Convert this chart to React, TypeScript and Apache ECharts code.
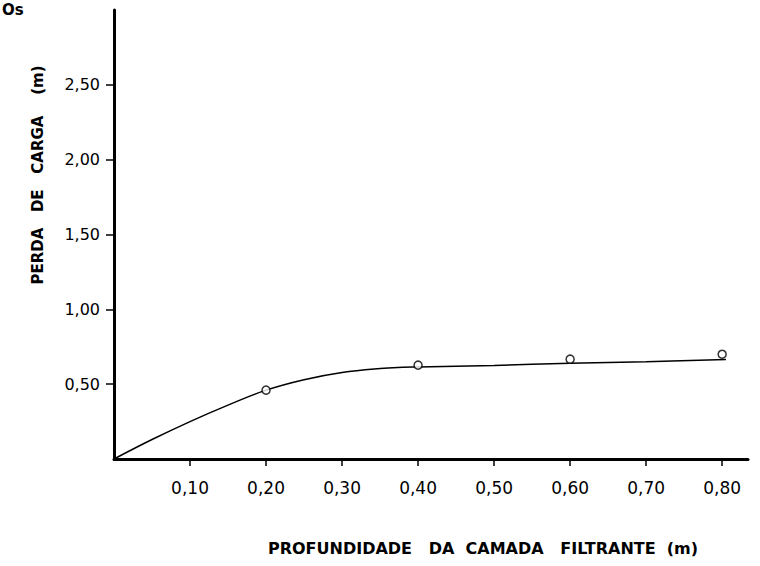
import React, { useEffect, useRef } from "react";
import * as echarts from "echarts";

// Measured points (profundidade m, perda de carga m)
const pointX = [0.2, 0.4, 0.6, 0.8];
const pointY = [0.46, 0.627, 0.667, 0.7];

// Fitted curve drawn by hand in the reference
const curveX = [0, 0.05, 0.1, 0.15, 0.2, 0.25, 0.3, 0.35, 0.38, 0.4, 0.5, 0.6, 0.7, 0.805];
const curveY = [0, 0.13, 0.25, 0.36, 0.46, 0.53, 0.578, 0.605, 0.613, 0.615, 0.625, 0.64, 0.65, 0.665];

const xTicks = [0.1, 0.2, 0.3, 0.4, 0.5, 0.6, 0.7, 0.8];
const yTicks = [0.5, 1.0, 1.5, 2.0, 2.5];

const xTitle = "PROFUNDIDADE   DA  CAMADA   FILTRANTE  (m)";
const yTitle = "PERDA   DE   CARGA    (m)";
const cornerText = "Os";

const fmt = (v: number) => v.toFixed(2).replace(".", ",");

export default function App() {
  const ref = useRef<HTMLDivElement>(null);
  useEffect(() => {
    if (!ref.current) return;
    const chart = echarts.init(ref.current, null, { renderer: "svg" });
    const font = "DejaVu Sans";
    chart.setOption({
      animation: false,
      backgroundColor: "#fff",
      grid: { left: 114, right: 12, top: 10, bottom: 107 },
      xAxis: {
        type: "value",
        min: 0,
        max: 0.834,
        axisLine: { show: true, lineStyle: { color: "#000", width: 3 } },
        axisTick: { show: true, customValues: xTicks, length: 7, lineStyle: { color: "#000", width: 1.5 } },
        axisLabel: {
          customValues: xTicks,
          formatter: (v: number) => fmt(v),
          color: "#000",
          fontFamily: font,
          fontSize: 17,
          margin: 20,
        },
        splitLine: { show: false },
      },
      yAxis: {
        type: "value",
        min: 0,
        max: 3.0,
        axisLine: { show: true, lineStyle: { color: "#000", width: 3 } },
        axisTick: { show: true, customValues: yTicks, length: 8, lineStyle: { color: "#000", width: 1.5 } },
        axisLabel: {
          customValues: yTicks,
          formatter: (v: number) => fmt(v),
          color: "#000",
          fontFamily: font,
          fontSize: 16,
          margin: 14,
        },
        splitLine: { show: false },
      },
      graphic: [
        {
          type: "text",
          left: 2,
          top: 2,
          style: { text: cornerText, fontFamily: font, fontSize: 15, fill: "#000", fontWeight: "bold" },
        },
        {
          type: "text",
          x: 38,
          y: 175,
          rotation: Math.PI / 2,
          style: {
            text: yTitle,
            fontFamily: font,
            fontSize: 15,
            fontWeight: "bold",
            fill: "#000",
            align: "center",
            verticalAlign: "middle",
          },
        },
        {
          type: "text",
          x: 483,
          y: 548,
          style: {
            text: xTitle,
            fontFamily: font,
            fontSize: 16,
            fontWeight: "bold",
            fill: "#000",
            align: "center",
            verticalAlign: "middle",
          },
        },
      ],
      series: [
        {
          type: "line",
          data: curveX.map((x, i) => [x, curveY[i]]),
          smooth: 0.4,
          showSymbol: false,
          lineStyle: { color: "#000", width: 1.5 },
          z: 2,
        },
        {
          type: "scatter",
          data: pointX.map((x, i) => [x, pointY[i]]),
          symbol: "circle",
          symbolSize: 8,
          itemStyle: { color: "#fff", borderColor: "#000", borderWidth: 1.5 },
          z: 3,
        },
      ],
    });
    return () => chart.dispose();
  }, []);
  return (
    <div
      ref={ref}
      style={{ position: "fixed", left: 0, top: 0, width: 760, height: 566 }}
    />
  );
}
